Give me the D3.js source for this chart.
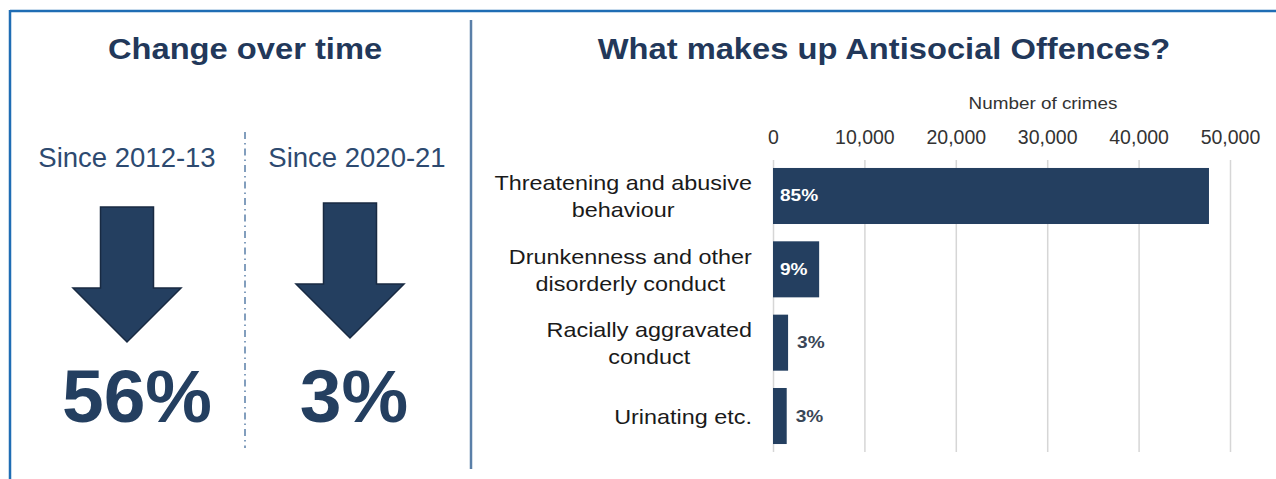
<!DOCTYPE html>
<html>
<head>
<meta charset="utf-8">
<script src="https://cdn.jsdelivr.net/npm/d3@7/dist/d3.min.js"></script>
<style>
  html, body { margin: 0; padding: 0; background: #ffffff; }
  svg { display: block; font-family: "Liberation Sans", Arial, sans-serif; }
</style>
</head>
<body>
<svg id="chart" width="1276" height="479"></svg>
<script>
// Offence categories (label lines) and counts
const categories = [
  ["Threatening and abusive", "behaviour"],
  ["Drunkenness and other", "disorderly conduct"],
  ["Racially aggravated", "conduct"],
  ["Urinating etc."]
];
const crimeCounts = [47700, 5050, 1650, 1500];
const shareLabels = ["85%", "9%", "3%", "3%"];
const xTicks = [0, 10000, 20000, 30000, 40000, 50000];

// Change-over-time panels
const periods = ["Since 2012-13", "Since 2020-21"];
const changes = ["56%", "3%"];

const navy = "#243f60";
const titleColor = "#22385a";
const frameBlue = "#1f6db4";
const dividerBlue = "#5a7fa8";

const svg = d3.select("#chart");

// Text placed at (x, y) and widened horizontally by sx about its anchor
function wideText(parent, x, y, sx, anchor) {
  return parent.append("text")
    .attr("transform", `translate(${x},${y}) scale(${sx},1)`)
    .attr("text-anchor", anchor || "start");
}

// Frame: top and left edges
svg.append("line").attr("x1", 10).attr("x2", 1276).attr("y1", 11).attr("y2", 11)
  .attr("stroke", frameBlue).attr("stroke-width", 2.5);
svg.append("line").attr("x1", 10).attr("x2", 10).attr("y1", 10).attr("y2", 479)
  .attr("stroke", frameBlue).attr("stroke-width", 2.5);

// Panel divider
svg.append("line").attr("x1", 471).attr("x2", 471).attr("y1", 20).attr("y2", 469)
  .attr("stroke", dividerBlue).attr("stroke-width", 2.5);

// Titles
wideText(svg, 245, 59, 1.09, "middle")
  .attr("font-size", 30).attr("font-weight", "bold").attr("fill", titleColor)
  .text("Change over time");
wideText(svg, 884, 59, 1.09, "middle")
  .attr("font-size", 30).attr("font-weight", "bold").attr("fill", titleColor)
  .text("What makes up Antisocial Offences?");

// ---- Left panel ----
const px = d3.scalePoint().domain(periods).range([127, 350]);
const labelX = [127, 357];

svg.append("line").attr("x1", 245).attr("x2", 245).attr("y1", 132).attr("y2", 448)
  .attr("stroke", dividerBlue).attr("stroke-width", 1.5)
  .attr("stroke-dasharray", "7,4,1.5,4");

svg.selectAll(".period").data(periods).enter().append("text")
  .attr("class", "period")
  .attr("x", (d, i) => labelX[i]).attr("y", 167).attr("text-anchor", "middle")
  .attr("font-size", 27.5).attr("fill", "#2d4a70")
  .text(d => d);

// Down arrows
const arrowTop = [207, 203];
periods.forEach((p, i) => {
  const cx = px(p), t = arrowTop[i];
  const sw = 26.5, hw = 54, shaftH = 81, headH = 54;
  const pts = [
    [cx - sw, t], [cx + sw, t], [cx + sw, t + shaftH], [cx + hw, t + shaftH],
    [cx, t + shaftH + headH], [cx - hw, t + shaftH], [cx - sw, t + shaftH]
  ];
  svg.append("path").attr("d", d3.line()(pts) + "Z")
    .attr("fill", navy).attr("stroke", "#182a42").attr("stroke-width", 1.5);
});

svg.selectAll(".change").data(changes).enter().append("text")
  .attr("class", "change")
  .attr("x", (d, i) => [137, 354][i]).attr("y", 422).attr("text-anchor", "middle")
  .attr("font-size", 75).attr("font-weight", "bold").attr("fill", navy)
  .text(d => d);

// ---- Right panel: bar chart ----
const x = d3.scaleLinear().domain([0, 50000]).range([773, 1230]);
const y = d3.scaleBand().domain(d3.range(categories.length))
  .range([158, 454]).paddingInner(0.236).paddingOuter(0.136);

// Axis title
wideText(svg, 1043, 109, 1.18, "middle")
  .attr("font-size", 16).attr("fill", "#333").text("Number of crimes");

// Gridlines + tick labels
const axis = svg.append("g").attr("transform", "translate(0,160)")
  .call(d3.axisTop(x).tickValues(xTicks).tickFormat(d3.format(",")).tickSize(-292).tickPadding(16));
axis.select(".domain").remove();
axis.selectAll(".tick line").attr("stroke", "#d6d6d6").attr("stroke-width", 1.5);
axis.selectAll(".tick text").attr("font-size", 19.5).attr("fill", "#333")
  .attr("font-family", "Liberation Sans, Arial, sans-serif");

// Bars
svg.selectAll(".bar").data(crimeCounts).enter().append("rect")
  .attr("class", "bar")
  .attr("x", x(0)).attr("y", (d, i) => y(i))
  .attr("width", d => x(d) - x(0)).attr("height", y.bandwidth())
  .attr("fill", navy);

// Share labels: inside wide bars, outside narrow ones
crimeCounts.forEach((d, i) => {
  const inside = x(d) - x(0) > 40;
  wideText(svg, inside ? x(0) + 7 : x(d) + 9, y(i) + y.bandwidth() / 2 + 5.5, 1.19)
    .attr("font-size", 16).attr("font-weight", "bold")
    .attr("fill", inside ? "#ffffff" : "#3a4656")
    .text(shareLabels[i]);
});

// Category labels: wrapped lines centred within a right-aligned block
const labelRight = 752, lineH = 27, labelSize = 20, labelSx = 1.17;
categories.forEach((lines, i) => {
  const g = svg.append("g");
  const texts = lines.map(l => g.append("text").attr("font-size", labelSize)
    .attr("fill", "#1a1a1a").attr("text-anchor", "middle").text(l));
  const maxW = d3.max(texts, t => t.node().getComputedTextLength()) * labelSx;
  const cy = y(i) + y.bandwidth() / 2;
  texts.forEach((t, k) => {
    const ty = cy + (k - (lines.length - 1) / 2) * lineH + 8;
    t.attr("transform", `translate(${labelRight - maxW / 2},${ty}) scale(${labelSx},1)`);
  });
});
</script>
</body>
</html>
